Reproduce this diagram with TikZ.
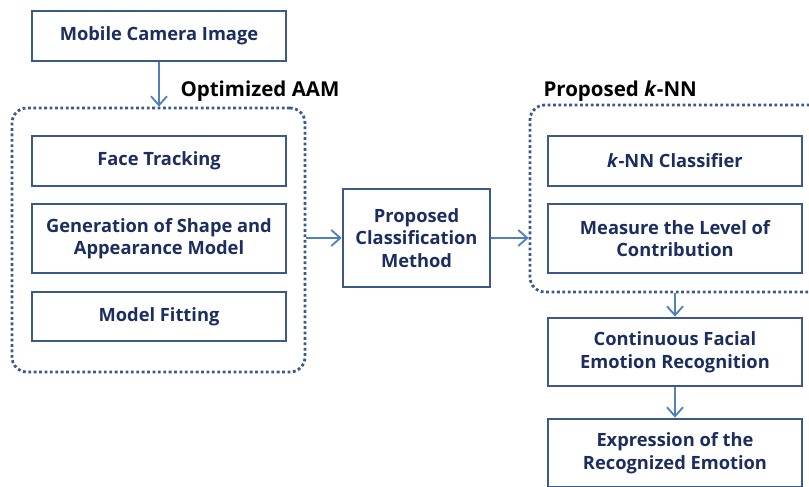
\documentclass[tikz,border=0pt]{standalone}
\usepackage{fontspec}
\setmainfont{Open Sans}
\usetikzlibrary{positioning,arrows.meta}
\definecolor{boxline}{RGB}{59,89,140}
\definecolor{boxtext}{RGB}{28,45,95}
\definecolor{flowblue}{RGB}{79,129,189}
\newcommand\stage[5]{\node(#1)[stagebox,minimum width=#3,minimum height=#4] at (#2) {#5};}

\begin{document}
\begin{tikzpicture}[x=1pt,y=-1pt,
    stagebox/.style={draw=boxline,line width=2.8pt,fill=white,align=center,
        text=boxtext,font=\bfseries\fontsize{18.3}{22.5}\selectfont,inner sep=0pt},
    groupbox/.style={draw=boxline,line width=2.8pt,rounded corners=15pt,
        dash pattern=on 2.8pt off 2.6pt,inner sep=0pt},
    grouplabel/.style={anchor=west,font=\bfseries\fontsize{20.5}{24}\selectfont},
    flow/.style={draw=flowblue,line width=1.8pt,-{Straight Barb[length=9pt,width=16pt,line width=1.8pt]}}]
    \clip (0,0) rectangle (809,487);
    \useasboundingbox (0,0) rectangle (809,487);
    % dotted groups
    \node(aam)[groupbox,minimum width=293pt,minimum height=264pt] at (158.5,240) {};
    \node(knn)[groupbox,minimum width=300pt,minimum height=187pt] at (680,198.5) {};
    \node(aamlbl)[grouplabel] at (177,91) {Optimized AAM};
    \node(knnlbl)[grouplabel] at (540,91) {Proposed \textit{k}-NN};
    % left column
    \stage{mci}{159,36}{254pt}{50pt}{Mobile Camera Image}
    \stage{ft}{159,161}{254pt}{50pt}{Face Tracking}
    \stage{gen}{159,238.5}{254pt}{69pt}{Generation of Shape and\\Appearance Model}
    \stage{mf}{159,316.5}{254pt}{49pt}{Model Fitting}
    % middle
    \stage{pcm}{416.5,238}{147pt}{98pt}{Proposed\\Classification\\Method}
    % right column
    \stage{knc}{675,161}{254pt}{50pt}{\textit{k}-NN Classifier}
    \stage{mlc}{675,238.5}{254pt}{69pt}{Measure the Level of\\Contribution}
    \stage{cfer}{675,352}{254pt}{68pt}{Continuous Facial\\Emotion Recognition}
    \stage{expr}{675,453}{254pt}{68pt}{Expression of the\\Recognized Emotion}
    % arrows
    \draw[flow] (mci.south) -- (mci.south |- aam.north);
    \draw[flow] (aam.east |- pcm.west) -- (pcm.west);
    \draw[flow] (pcm.east) -- (knn.west |- pcm.east);
    \draw[flow] (cfer.north |- knn.south) -- (cfer.north);
    \draw[flow] (cfer.south) -- (expr.north);
\end{tikzpicture}
\end{document}
